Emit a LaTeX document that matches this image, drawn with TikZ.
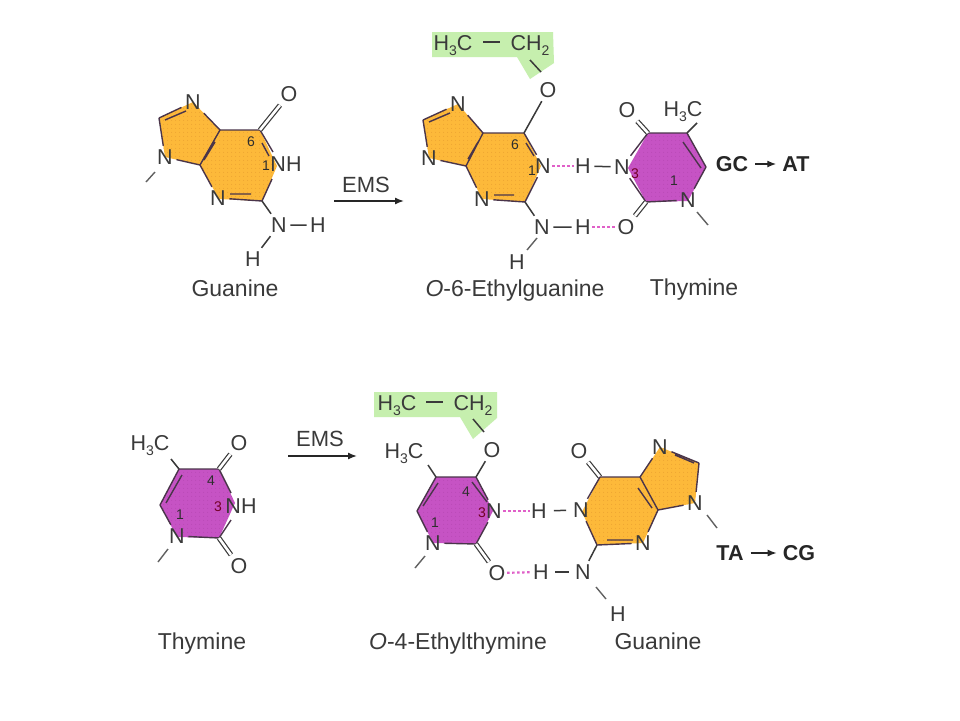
\documentclass[tikz,border=0pt]{standalone}
\usepackage{fontspec}
\setmainfont{Liberation Sans}
\usetikzlibrary{arrows.meta,patterns.meta}
\definecolor{orangefill}{HTML}{FDB93A}
\definecolor{orangedot}{HTML}{E59A2E}
\definecolor{purplefill}{HTML}{C653C4}
\definecolor{purpledot}{HTML}{B445B0}
\definecolor{greenfill}{HTML}{C6EFAE}
\definecolor{ink}{HTML}{3A3A3A}
\definecolor{hbond}{HTML}{E060C8}
\newcommand{\subn}[1]{\raisebox{-.22em}{\fontsize{14}{14}\selectfont #1}}
\tikzset{
  atom/.style={font=\fontsize{21.5}{22}\selectfont,text=ink,inner sep=3.5pt,text height=15pt,text depth=0pt},
  caption/.style={font=\fontsize{23}{23}\selectfont,text=ink,inner sep=0pt,text height=15pt,text depth=0pt},
  num/.style={font=\fontsize{14}{14}\selectfont,text=ink!80!black,inner sep=0pt},
  shiftlabel/.style={font=\bfseries\fontsize{21.5}{22}\selectfont,text=black!85,inner sep=0pt,text height=15pt,text depth=0pt},
  bond/.style={draw=ink,line width=1.5pt},
  ethbond/.style={draw=ink,line width=2pt},
  ringbond/.style={draw=ink!92!magenta,line width=1.4pt},
  dbond/.style={draw=ink,line width=1.2pt,double=white,double distance=2.6pt},
  stub/.style={draw=ink!80,line width=1.4pt},
  hb/.style={draw=hbond,line width=2.2pt,dash pattern=on 2.5pt off 2.5pt,shorten <=-2pt,shorten >=-2pt},
  yields/.style={draw=black!85,line width=1.4pt,-{Latex[length=9pt,width=7pt]}},
  gapped/.style={shorten <=7pt,shorten >=6pt},
  gfill/.style={fill=orangefill,postaction={pattern={Dots[distance=4pt,radius=.55pt]},pattern color=orangedot}},
  tfill/.style={fill=purplefill,postaction={pattern={Dots[distance=4pt,radius=.5pt]},pattern color=purpledot}},
  tag/.style={fill=greenfill}
}
\begin{document}
\begin{tikzpicture}[x=1pt,y=-1pt]
\useasboundingbox (0,0) rectangle (960,720);
\fill[white] (0,0) rectangle (960,720);

%%% ---------- Guanine, top left ----------
\coordinate (aa) at (220,130); \coordinate (ab) at (260,130);
\coordinate (ac) at (277,166); \coordinate (ad) at (262,201);
\coordinate (ae) at (219,199); \coordinate (af) at (200,165);
\coordinate (ag) at (165,157); \coordinate (ah) at (159,118);
\coordinate (ai) at (193,102);
\path[gfill] (aa)--(ai)--(ah)--(ag)--(af)--(ae)--(ad)--(ac)--(ab)--cycle;
\node[atom] (aNtop) at (193,102) {N};
\node[atom] (aNleft) at (165,157) {N};
\node[atom] (aNH) at (286,164) {NH};
\node[atom] (aNlow) at (218,198) {N};
\node[atom] (aO) at (289,94) {O};
\node[atom] (aNam) at (279,225) {N};
\node[atom] (aH1) at (318,225) {H};
\node[atom] (aH2) at (253,259) {H};
\node[num] (a6) at (251,142) {6};
\node[num] (a1) at (266,166) {1};
\node[caption] (aname) at (235,289) {Guanine};
\node[caption,font=\fontsize{22}{22}\selectfont] (ems1) at (366,185) {EMS};
\coordinate (aarrL) at (334,201); \coordinate (aarrR) at (404,201);
\coordinate (astub1) at (155,172); \coordinate (astub2) at (146,182);
\coordinate (ak) at (262,143); \coordinate (al) at (269,156);
\coordinate (am) at (230,194); \coordinate (an) at (251,194);
\coordinate (ao) at (165,120); \coordinate (ap) at (186,111);
\coordinate (aq) at (215,142); \coordinate (ar) at (204,160);
\coordinate (at1) at (273,152); \coordinate (at2) at (272,179);
\path[ringbond] (aa)--(aNtop) (aa)--(ab) (ah)--(aNtop) (ah)--(aNleft) (aNleft)--(af) (af)--(aa) (af)--(aNlow) (aNlow)--(ad) (ad)--(at2) (ab)--(at1) (ak)--(al) (am)--(an) (ao)--(ap) (aq)--(ar);
\path[dbond] (ab)--(aO);
\path[bond] (ad)--(aNam) (aNam)--(aH1) (aNam)--(aH2);
\path[stub] (astub1)--(astub2);
\path[yields] (aarrL)--(aarrR);

%%% ---------- O-6-ethylguanine : thymine, top right ----------
\path[tag] (432,32)--(553,32)--(554,63)--(530,79)--(517,57)--(432,57)--cycle;
\coordinate (ba) at (483,133); \coordinate (bb) at (524,133);
\coordinate (bc) at (541,166); \coordinate (bd) at (525,202);
\coordinate (be) at (482,199); \coordinate (bf) at (466,166);
\coordinate (bg) at (429,158); \coordinate (bh) at (423,120);
\coordinate (bi) at (458,104);
\path[gfill] (ba)--(bi)--(bh)--(bg)--(bf)--(be)--(bd)--(bc)--(bb)--cycle;
\coordinate (ca) at (648,133); \coordinate (cb) at (687,133);
\coordinate (cc) at (706,167); \coordinate (cd) at (688,201);
\coordinate (ce) at (646,202); \coordinate (cf) at (628,168);
\path[tfill] (ca)--(cb)--(cc)--(cd)--(ce)--(cf)--cycle;
\node[atom] (bCa) at (453,43) {H\subn{3}C};
\node[atom] (bCb) at (530,43) {CH\subn{2}};
\node[atom] (bO) at (548,90) {O};
\node[atom] (bNtop) at (458,104) {N};
\node[atom] (bNleft) at (429,158) {N};
\node[atom] (bN1) at (543,166) {N};
\node[atom] (bNlow) at (482,199) {N};
\node[atom] (bNam) at (542,227) {N};
\node[atom] (bH1) at (583,166) {H};
\node[atom] (bH2) at (583,227) {H};
\node[atom] (bH3) at (517,262) {H};
\node[atom] (cN3) at (622,167) {N};
\node[atom] (cO1) at (627,110) {O};
\node[atom] (cO2) at (626,227) {O};
\node[atom] (cN1) at (688,200) {N};
\node[atom] (cMe) at (683,109) {H\subn{3}C};
\node[num] (b6) at (515,145) {6};
\node[num] (b1) at (532,171) {1};
\node[num,text=purple!60!black] (c3) at (635,174) {3};
\node[num] (c1) at (674,181) {1};
\node[caption] (bname) at (515,289) {\textit{O}-6-Ethylguanine};
\node[caption] (cname) at (694,288) {Thymine};
\node[shiftlabel] (gc) at (732,164) {GC};
\node[shiftlabel] (at) at (796,164) {AT};
\coordinate (bs1) at (483,42); \coordinate (bs2) at (500,42);
\coordinate (bs3) at (530,60); \coordinate (bs4) at (541,72);
\coordinate (bk) at (526,143); \coordinate (bl) at (534,156);
\coordinate (bm) at (494,195); \coordinate (bn) at (514,195);
\coordinate (bo) at (429,122); \coordinate (bp) at (450,113);
\coordinate (bq) at (478,142); \coordinate (br) at (468,159);
\coordinate (bt) at (537,238); \coordinate (bu) at (527,250);
\coordinate (cg) at (683,142); \coordinate (ch) at (701,168);
\coordinate (ci) at (697,212); \coordinate (cj) at (708,225);
\coordinate (cm) at (697,123);
\path[ringbond] (ba)--(bNtop) (ba)--(bb) (bh)--(bNtop) (bh)--(bNleft) (bNleft)--(bf) (bf)--(ba) (bf)--(bNlow) (bNlow)--(bd) (bd)--(bN1) (bb)--(bN1) (bk)--(bl) (bm)--(bn) (bo)--(bp) (bq)--(br);
\path[ethbond] (bs1)--(bs2);
\path[bond] (bs3)--(bs4) (bO)--(bb) (bd)--(bNam) (bNam)--(bH2) (bH1)--(cN3);
\path[stub] (bt)--(bu) (ci)--(cj);
\path[hb] (bN1)--(bH1);
\path[hb] (bH2)--(cO2);
\path[ringbond] (ca)--(cb) (cb)--(cc) (cc)--(cN1) (cN1)--(ce) (ce)--(cN3) (cN3)--(ca) (cg)--(ch);
\path[bond] (cb)--(cm);
\path[dbond] (ca)--(cO1) (ce)--(cO2);
\path[yields,gapped] (gc)--(at);

%%% ---------- Thymine, bottom left ----------
\coordinate (da) at (179,469); \coordinate (db) at (219,469);
\coordinate (dc) at (235,503); \coordinate (dd) at (219,538);
\coordinate (de) at (177,537); \coordinate (df) at (160,505);
\path[tfill] (da)--(db)--(dc)--(dd)--(de)--(df)--cycle;
\node[atom] (dMe) at (150,443) {H\subn{3}C};
\node[atom] (dO1) at (239,443) {O};
\node[atom] (dO2) at (239,566) {O};
\node[atom] (dNH) at (241,506) {NH};
\node[atom] (dN1) at (177,536) {N};
\node[num] (d4) at (211,481) {4};
\node[num,text=purple!60!black] (d3) at (218,507) {3};
\node[num] (d1) at (180,515) {1};
\node[caption] (dname) at (202,642) {Thymine};
\node[caption,font=\fontsize{22}{22}\selectfont] (ems2) at (320,439) {EMS};
\coordinate (darrL) at (288,456); \coordinate (darrR) at (357,456);
\coordinate (dg) at (166,503); \coordinate (dh) at (182,475);
\coordinate (di) at (168,549); \coordinate (dj) at (158,562);
\coordinate (dm) at (171,459); \coordinate (dt1) at (231,493); \coordinate (dt2) at (231,520);
\path[ringbond] (da)--(db) (db)--(dt1) (dd)--(dt2) (dd)--(dN1) (dN1)--(df) (df)--(da) (dg)--(dh);
\path[bond] (da)--(dm);
\path[dbond] (db)--(dO1) (dd)--(dO2);
\path[stub] (di)--(dj);
\path[yields] (darrL)--(darrR);

%%% ---------- O-4-ethylthymine : guanine, bottom right ----------
\path[tag] (374,392)--(497,392)--(497,418)--(473,439)--(460,417)--(374,417)--cycle;
\coordinate (ea) at (436,477); \coordinate (eb) at (476,477);
\coordinate (ec) at (493,511); \coordinate (ed) at (476,544);
\coordinate (ee) at (433,543); \coordinate (ef) at (417,511);
\path[tfill] (ea)--(eb)--(ec)--(ed)--(ee)--(ef)--cycle;
\coordinate (fa) at (600,477); \coordinate (fb) at (640,477);
\coordinate (fc) at (658,510); \coordinate (fd) at (643,543);
\coordinate (fe) at (597,545); \coordinate (ff) at (582,512);
\coordinate (fg) at (695,503); \coordinate (fh) at (699,463);
\coordinate (fi) at (660,447);
\path[gfill] (fb)--(fi)--(fh)--(fg)--(fc)--(fd)--(fe)--(ff)--(fa)--cycle;
\node[atom] (eCa) at (397,403) {H\subn{3}C};
\node[atom] (eCb) at (473,403) {CH\subn{2}};
\node[atom] (eO) at (492,450) {O};
\node[atom] (eMe) at (404,451) {H\subn{3}C};
\node[atom] (eN3) at (494,511) {N};
\node[atom] (eN1) at (433,543) {N};
\node[atom] (eO2) at (497,573) {O};
\node[atom] (eH1) at (539,511) {H};
\node[atom] (eH2) at (541,572) {H};
\node[atom] (fN1) at (581,510) {N};
\node[atom] (fNam) at (583,572) {N};
\node[atom] (fH) at (618,614) {H};
\node[atom] (fO) at (579,451) {O};
\node[atom] (fNlow) at (643,543) {N};
\node[atom] (fNtop) at (660,447) {N};
\node[atom] (fNr) at (695,503) {N};
\node[num] (e4) at (466,492) {4};
\node[num,text=purple!60!black] (e3) at (482,513) {3};
\node[num] (e1) at (435,523) {1};
\node[caption] (ename) at (458,642) {\textit{O}-4-Ethylthymine};
\node[caption] (fname) at (658,642) {Guanine};
\node[shiftlabel] (ta) at (730,553) {TA};
\node[shiftlabel] (cg) at (799,553) {CG};
\coordinate (es1) at (426,402); \coordinate (es2) at (443,402);
\coordinate (es3) at (473,419); \coordinate (es4) at (484,432);
\coordinate (eg) at (423,506); \coordinate (eh) at (438,483);
\coordinate (ei) at (472,482); \coordinate (ej) at (487,502);
\coordinate (ek) at (425,556); \coordinate (el) at (415,568);
\coordinate (em) at (428,465);
\coordinate (fj) at (607,540); \coordinate (fk) at (633,540);
\coordinate (fl) at (638,488); \coordinate (fm) at (652,508);
\coordinate (fn) at (675,455); \coordinate (fo) at (694,463);
\coordinate (fp) at (707,515); \coordinate (fq) at (717,528);
\coordinate (fr) at (596,587); \coordinate (fs) at (606,599);
\path[ringbond] (ea)--(eb) (eb)--(eN3) (ed)--(eN3) (ed)--(eN1) (eN1)--(ef) (ef)--(ea) (eg)--(eh) (ei)--(ej);
\path[ethbond] (es1)--(es2);
\path[bond] (es3)--(es4) (ea)--(em) (eb)--(eO) (fe)--(fNam);
\path[bond,shorten <=3.5pt,shorten >=3.5pt] (eH1)--(fN1);
\path[bond,shorten <=3pt,shorten >=3pt] (eH2)--(fNam);
\path[dbond] (ed)--(eO2) (fa)--(fO);
\path[stub] (ek)--(el) (fp)--(fq) (fr)--(fs);
\path[hb] (eN3)--(eH1);
\path[hb] (eO2)--(eH2);
\path[ringbond] (fa)--(fb) (fb)--(fNtop) (fNtop)--(fh) (fh)--(fNr) (fNr)--(fc) (fc)--(fb) (fc)--(fNlow) (fNlow)--(fe) (fe)--(fN1) (fN1)--(fa) (fj)--(fk) (fl)--(fm) (fn)--(fo);
\path[yields,gapped] (ta)--(cg);
\end{tikzpicture}
\end{document}
